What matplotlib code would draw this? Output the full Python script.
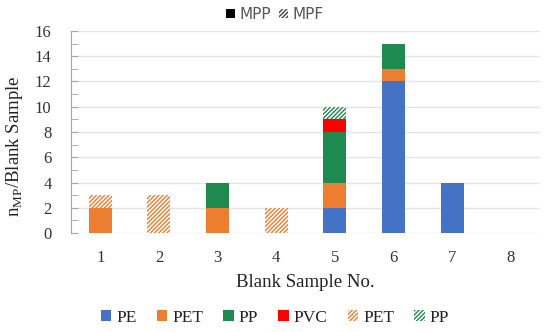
import numpy as np
import matplotlib.pyplot as plt
from matplotlib.patches import Patch

# data
samples = ['1', '2', '3', '4', '5', '6', '7', '8']
pe_mpp = [0, 0, 0, 0, 2, 12, 4, 0]
pet_mpp = [2, 0, 2, 0, 2, 1, 0, 0]
pp_mpp = [0, 0, 2, 0, 4, 2, 0, 0]
pvc_mpp = [0, 0, 0, 0, 1, 0, 0, 0]
pet_mpf = [1, 3, 0, 2, 0, 0, 0, 0]
pp_mpf = [0, 0, 0, 0, 1, 0, 0, 0]

c_pe = '#4472C4'
c_pet = '#ED7D31'
c_pp = '#1F8A4F'
c_pvc = '#FF0000'

plt.rcParams['hatch.linewidth'] = 1.0
serif = 'Liberation Serif'

fig = plt.figure(figsize=(5.5, 3.32), dpi=100)
ax = fig.add_axes([0.129, 0.298, 0.853, 0.609])

x = np.arange(len(samples))
w = 0.39
bottom = np.zeros(len(samples))

# solid (MPP) stacks first, then hatched (MPF) on top
series = [
    (pe_mpp, c_pe, None),
    (pet_mpp, c_pet, None),
    (pp_mpp, c_pp, None),
    (pvc_mpp, c_pvc, None),
    (pet_mpf, c_pet, '////////'),
    (pp_mpf, c_pp, '////////'),
]
for vals, col, hatch in series:
    vals = np.array(vals, dtype=float)
    if hatch is None:
        ax.bar(x, vals, w, bottom=bottom, color=col, linewidth=0, zorder=3)
    else:
        ax.bar(x, vals, w, bottom=bottom, facecolor='white', edgecolor=col,
               hatch=hatch, linewidth=0, zorder=3)
    bottom += vals

ax.set_xlim(-0.5, len(samples) - 0.5)
ax.set_ylim(0, 16)
ax.set_yticks(np.arange(0, 17, 2))
ax.set_yticks(np.arange(0, 17, 1), minor=True)
ax.set_xticks(x)
ax.set_xticklabels(samples)
ax.yaxis.grid(True, color='#E4E4E4', linewidth=1.0, zorder=0)
ax.set_axisbelow(True)

for s in ['top', 'right', 'bottom']:
    ax.spines[s].set_visible(False)
ax.spines['left'].set_color('#A6A6A6')
ax.tick_params(axis='y', which='both', direction='in', color='#A6A6A6',
               length=5, pad=14, labelsize=12)
ax.tick_params(axis='x', length=0, pad=12, labelsize=12)
for lab in ax.get_xticklabels() + ax.get_yticklabels():
    lab.set_fontfamily(serif)
    lab.set_color('#333333')

ax.set_xlabel('Blank Sample No.', fontfamily=serif, fontsize=13.5, color='#222222', labelpad=6)
ax.set_ylabel(r'n$_{\mathregular{MP}}$/Blank Sample', fontfamily=serif, fontsize=13.5,
              color='#222222')
ax.yaxis.set_label_coords(-0.097, 0.43)

# top legend: MPP / MPF
top_handles = [Patch(facecolor='black', edgecolor='black', linewidth=0, label='MPP'),
               Patch(facecolor='white', edgecolor='#444444', hatch='////////', linewidth=0, label='MPF')]
fig.legend(handles=top_handles, loc='center', bbox_to_anchor=(0.5, 0.957), ncol=2,
           frameon=False, fontsize=11, handlelength=0.6, handleheight=0.6,
           handletextpad=0.3, columnspacing=0.5, labelcolor='#555555')

# bottom legend: polymers
labels = ['PE', 'PET', 'PP', 'PVC', 'PET', 'PP']
bottom_handles = [
    Patch(facecolor=c_pe, linewidth=0),
    Patch(facecolor=c_pet, linewidth=0),
    Patch(facecolor=c_pp, linewidth=0),
    Patch(facecolor=c_pvc, linewidth=0),
    Patch(facecolor='white', edgecolor=c_pet, hatch='////////', linewidth=0),
    Patch(facecolor='white', edgecolor=c_pp, hatch='////////', linewidth=0),
]
fig.legend(handles=bottom_handles, labels=labels, loc='center', bbox_to_anchor=(0.5, 0.042),
           ncol=6, frameon=False, prop={'family': serif, 'size': 12.5},
           handlelength=0.6, handleheight=0.6, handletextpad=0.3, columnspacing=1.15,
           labelcolor='#222222')

fig.savefig('out.png', dpi=100)
